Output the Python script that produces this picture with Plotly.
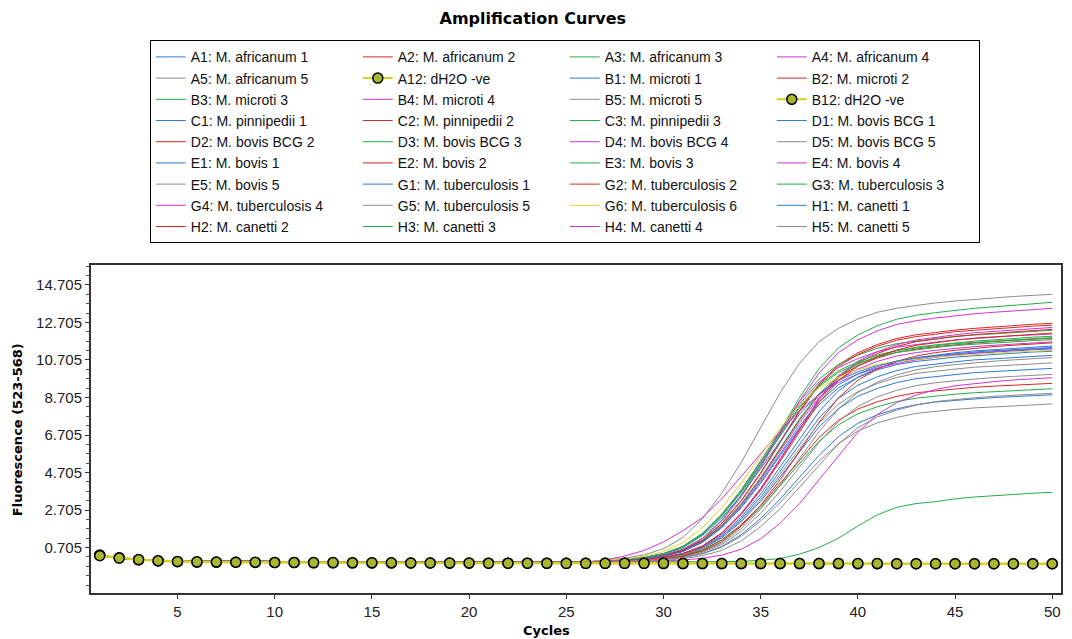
import plotly.graph_objects as go

cycles = list(range(1, 51))

# shared early baseline for the sample wells, cycles 1-26
sample_baseline = [0.28, 0.12, 0.06, 0.02, -0.01, -0.02, -0.03, -0.03, -0.04, -0.04,
                   -0.05, -0.05, -0.05, -0.06, -0.06, -0.06, -0.06, -0.07, -0.07, -0.07,
                   -0.07, -0.07, -0.08, -0.08, -0.08, -0.08]

# sample wells, cycles 27-50
A1 = [-0.02, 0.02, 0.1, 0.23, 0.49, 0.97, 1.76, 2.83, 4.13, 5.6, 7.07, 8.31, 9.22, 9.78, 10.18, 10.46, 10.63, 10.74, 10.86, 10.93, 11.0, 11.07, 11.13, 11.17]
A2 = [-0.01, 0.02, 0.11, 0.25, 0.53, 1.03, 1.87, 3.01, 4.39, 5.95, 7.51, 8.83, 9.79, 10.39, 10.81, 11.11, 11.29, 11.41, 11.53, 11.61, 11.69, 11.76, 11.82, 11.87]
A3 = [-0.01, 0.03, 0.13, 0.3, 0.62, 1.2, 2.17, 3.5, 5.09, 6.9, 8.71, 10.24, 11.35, 12.04, 12.53, 12.88, 13.09, 13.23, 13.36, 13.46, 13.54, 13.63, 13.7, 13.78]
A4 = [0.0, 0.06, 0.17, 0.38, 0.76, 1.44, 2.45, 3.73, 5.26, 6.84, 8.37, 9.53, 10.3, 10.78, 11.15, 11.39, 11.54, 11.66, 11.77, 11.85, 11.92, 11.99, 12.04, 12.09]
A5 = [-0.03, -0.02, 0.02, 0.09, 0.23, 0.48, 0.94, 1.71, 2.76, 4.02, 5.45, 6.88, 8.09, 8.97, 9.52, 9.91, 10.18, 10.35, 10.46, 10.57, 10.64, 10.71, 10.77, 10.83]
B1 = [-0.03, 0.0, 0.05, 0.16, 0.36, 0.72, 1.37, 2.33, 3.55, 5.0, 6.5, 7.95, 9.06, 9.79, 10.25, 10.6, 10.83, 10.97, 11.09, 11.19, 11.26, 11.33, 11.4, 11.45]
B2 = [-0.01, 0.03, 0.12, 0.27, 0.56, 1.1, 2.0, 3.21, 4.69, 6.35, 8.01, 9.42, 10.45, 11.09, 11.53, 11.85, 12.05, 12.17, 12.3, 12.39, 12.47, 12.55, 12.61, 12.66]
B3 = [0.0, 0.06, 0.17, 0.38, 0.77, 1.46, 2.49, 3.79, 5.34, 6.96, 8.51, 9.68, 10.47, 10.96, 11.33, 11.58, 11.73, 11.85, 11.97, 12.04, 12.11, 12.19, 12.24, 12.29]
B4 = [-0.01, 0.02, 0.1, 0.25, 0.52, 1.01, 1.84, 2.96, 4.32, 5.85, 7.38, 8.68, 9.63, 10.22, 10.63, 10.92, 11.1, 11.22, 11.34, 11.42, 11.49, 11.56, 11.62, 11.67]
B5 = [0.04, 0.14, 0.31, 0.64, 1.24, 2.24, 3.6, 5.24, 7.1, 8.96, 10.53, 11.68, 12.39, 12.89, 13.25, 13.46, 13.61, 13.75, 13.85, 13.94, 14.02, 14.09, 14.15, 14.21]
C1 = [-0.03, -0.01, 0.04, 0.14, 0.31, 0.64, 1.22, 2.08, 3.17, 4.47, 5.83, 7.13, 8.11, 8.77, 9.19, 9.5, 9.71, 9.83, 9.93, 10.03, 10.09, 10.15, 10.22, 10.26]
C2 = [-0.03, 0.0, 0.06, 0.18, 0.39, 0.78, 1.48, 2.51, 3.83, 5.39, 7.01, 8.58, 9.76, 10.55, 11.05, 11.43, 11.68, 11.83, 11.95, 12.06, 12.14, 12.21, 12.29, 12.34]
C3 = [0.0, 0.06, 0.16, 0.37, 0.74, 1.4, 2.39, 3.64, 5.13, 6.67, 8.16, 9.29, 10.04, 10.52, 10.87, 11.11, 11.26, 11.37, 11.48, 11.55, 11.62, 11.7, 11.74, 11.79]
D1 = [-0.03, -0.02, 0.0, 0.07, 0.18, 0.38, 0.76, 1.39, 2.25, 3.28, 4.45, 5.62, 6.61, 7.33, 7.78, 8.1, 8.32, 8.46, 8.55, 8.64, 8.7, 8.75, 8.81, 8.85]
D2 = [-0.03, -0.01, 0.04, 0.12, 0.29, 0.58, 1.12, 1.92, 2.93, 4.13, 5.37, 6.57, 7.49, 8.09, 8.48, 8.76, 8.96, 9.07, 9.17, 9.25, 9.31, 9.37, 9.43, 9.46]
D3 = [-0.01, 0.02, 0.11, 0.25, 0.53, 1.04, 1.89, 3.04, 4.43, 6.0, 7.57, 8.9, 9.87, 10.48, 10.9, 11.2, 11.39, 11.51, 11.63, 11.71, 11.78, 11.86, 11.92, 11.97]
D4 = [-0.01, 0.03, 0.13, 0.29, 0.6, 1.17, 2.13, 3.42, 4.98, 6.75, 8.52, 10.01, 11.1, 11.78, 12.26, 12.6, 12.8, 12.94, 13.07, 13.17, 13.25, 13.33, 13.4, 13.46]
D5 = [-0.03, -0.02, 0.01, 0.08, 0.2, 0.44, 0.86, 1.57, 2.53, 3.69, 5.0, 6.31, 7.42, 8.23, 8.74, 9.09, 9.34, 9.49, 9.6, 9.7, 9.77, 9.83, 9.89, 9.94]
E1 = [-0.03, -0.01, 0.05, 0.15, 0.34, 0.68, 1.3, 2.23, 3.39, 4.78, 6.22, 7.61, 8.66, 9.36, 9.81, 10.14, 10.36, 10.5, 10.61, 10.71, 10.77, 10.84, 10.91, 10.95]
E2 = [-0.01, 0.03, 0.12, 0.27, 0.56, 1.09, 1.98, 3.19, 4.65, 6.3, 7.95, 9.35, 10.36, 11.0, 11.44, 11.76, 11.95, 12.08, 12.21, 12.29, 12.37, 12.45, 12.51, 12.56]
E3 = [-0.03, -0.01, 0.03, 0.12, 0.28, 0.56, 1.09, 1.86, 2.83, 4.0, 5.21, 6.37, 7.25, 7.84, 8.21, 8.49, 8.67, 8.79, 8.88, 8.96, 9.02, 9.07, 9.13, 9.17]
E4 = [-0.03, 0.0, 0.06, 0.18, 0.39, 0.78, 1.49, 2.53, 3.86, 5.43, 7.07, 8.64, 9.84, 10.64, 11.14, 11.52, 11.77, 11.92, 12.05, 12.16, 12.24, 12.31, 12.39, 12.44]
E5 = [-0.03, -0.03, -0.01, 0.03, 0.11, 0.27, 0.55, 1.06, 1.82, 2.77, 3.91, 5.09, 6.23, 7.09, 7.67, 8.03, 8.3, 8.49, 8.6, 8.69, 8.77, 8.82, 8.88, 8.93]
G1 = [0.0, 0.05, 0.16, 0.35, 0.7, 1.34, 2.29, 3.48, 4.91, 6.39, 7.82, 8.9, 9.62, 10.07, 10.42, 10.64, 10.78, 10.89, 11.0, 11.07, 11.13, 11.2, 11.25, 11.29]
G2 = [-0.03, -0.02, 0.02, 0.1, 0.25, 0.52, 1.01, 1.84, 2.96, 4.32, 5.85, 7.38, 8.68, 9.63, 10.22, 10.63, 10.92, 11.1, 11.22, 11.34, 11.42, 11.49, 11.56, 11.62]
G3 = [0.0, 0.06, 0.17, 0.37, 0.74, 1.41, 2.41, 3.67, 5.17, 6.73, 8.23, 9.37, 10.13, 10.61, 10.97, 11.21, 11.35, 11.47, 11.58, 11.65, 11.72, 11.79, 11.84, 11.89]
G4 = [0.05, 0.25, 0.55, 1.0, 1.6, 2.3, 3.3, 4.5, 5.7, 6.9, 8.0, 8.85, 9.5, 9.95, 10.28, 10.52, 10.71, 10.86, 10.98, 11.08, 11.16, 11.23, 11.29, 11.34]
G5 = [-0.03, -0.01, 0.05, 0.14, 0.33, 0.66, 1.26, 2.14, 3.27, 4.61, 6.0, 7.33, 8.35, 9.02, 9.45, 9.77, 9.99, 10.12, 10.22, 10.32, 10.38, 10.45, 10.51, 10.55]
G6 = [0.02, 0.1, 0.23, 0.49, 0.97, 1.76, 2.83, 4.13, 5.6, 7.07, 8.31, 9.22, 9.78, 10.18, 10.46, 10.63, 10.74, 10.86, 10.93, 11.0, 11.07, 11.13, 11.17, 11.22]
H1 = [-0.02, 0.02, 0.1, 0.24, 0.5, 0.99, 1.79, 2.88, 4.21, 5.7, 7.2, 8.46, 9.38, 9.96, 10.36, 10.65, 10.82, 10.93, 11.05, 11.13, 11.2, 11.27, 11.32, 11.37]
H2 = [-0.03, 0.0, 0.06, 0.17, 0.38, 0.76, 1.45, 2.47, 3.76, 5.3, 6.9, 8.44, 9.61, 10.38, 10.87, 11.24, 11.49, 11.64, 11.76, 11.87, 11.94, 12.02, 12.09, 12.14]
H3 = [-0.05, -0.06, -0.06, -0.07, -0.07, -0.06, -0.05, -0.03, 0.02, 0.12, 0.35, 0.7, 1.2, 1.85, 2.45, 2.85, 3.05, 3.15, 3.3, 3.4, 3.48, 3.55, 3.6, 3.65]
H4 = [-0.03, -0.03, -0.03, -0.01, 0.04, 0.13, 0.3, 0.61, 1.17, 2.0, 3.05, 4.3, 5.6, 6.85, 7.8, 8.43, 8.83, 9.13, 9.33, 9.45, 9.55, 9.64, 9.7, 9.76]
H5 = [-0.03, -0.02, 0.0, 0.06, 0.16, 0.36, 0.72, 1.31, 2.12, 3.1, 4.2, 5.31, 6.24, 6.92, 7.35, 7.64, 7.86, 7.98, 8.07, 8.15, 8.21, 8.26, 8.31, 8.36]

# negative controls, cycles 1-50
A12 = [0.3, 0.16, 0.05, -0.01, -0.05, -0.07, -0.08, -0.08, -0.09, -0.1,
       -0.1, -0.11, -0.11, -0.11, -0.12, -0.12, -0.12, -0.12, -0.13, -0.13,
       -0.13, -0.13, -0.13, -0.14, -0.14, -0.14, -0.14, -0.14, -0.14, -0.15,
       -0.15, -0.15, -0.15, -0.15, -0.15, -0.15, -0.15, -0.15, -0.15, -0.16,
       -0.16, -0.16, -0.16, -0.16, -0.16, -0.16, -0.16, -0.16, -0.16, -0.16]
B12 = [0.27, 0.14, 0.06, 0.0, -0.04, -0.06, -0.07, -0.08, -0.08, -0.09,
       -0.09, -0.1, -0.1, -0.11, -0.11, -0.11, -0.12, -0.12, -0.12, -0.12,
       -0.13, -0.13, -0.13, -0.13, -0.14, -0.14, -0.14, -0.14, -0.14, -0.14,
       -0.15, -0.15, -0.15, -0.15, -0.15, -0.15, -0.15, -0.15, -0.15, -0.15,
       -0.15, -0.16, -0.16, -0.16, -0.16, -0.16, -0.16, -0.16, -0.16, -0.16]

legend_labels = [
    "A1: M. africanum 1", "A2: M. africanum 2", "A3: M. africanum 3", "A4: M. africanum 4",
    "A5: M. africanum 5", "A12: dH2O -ve", "B1: M. microti 1", "B2: M. microti 2",
    "B3: M. microti 3", "B4: M. microti 4", "B5: M. microti 5", "B12: dH2O -ve",
    "C1: M. pinnipedii 1", "C2: M. pinnipedii 2", "C3: M. pinnipedii 3", "D1: M. bovis BCG 1",
    "D2: M. bovis BCG 2", "D3: M. bovis BCG 3", "D4: M. bovis BCG 4", "D5: M. bovis BCG 5",
    "E1: M. bovis 1", "E2: M. bovis 2", "E3: M. bovis 3", "E4: M. bovis 4",
    "E5: M. bovis 5", "G1: M. tuberculosis 1", "G2: M. tuberculosis 2", "G3: M. tuberculosis 3",
    "G4: M. tuberculosis 4", "G5: M. tuberculosis 5", "G6: M. tuberculosis 6", "H1: M. canetti 1",
    "H2: M. canetti 2", "H3: M. canetti 3", "H4: M. canetti 4", "H5: M. canetti 5",
]
series_values = [A1, A2, A3, A4, A5, A12, B1, B2, B3, B4, B5, B12,
                 C1, C2, C3, D1, D2, D3, D4, D5, E1, E2, E3, E4,
                 E5, G1, G2, G3, G4, G5, G6, H1, H2, H3, H4, H5]

BLUE, RED, GREEN, MAG, GREY, YEL = "#2F78D6", "#D62828", "#22AE48", "#D232D2", "#8C8C8C", "#E8D02A"
series_colors = [BLUE, RED, GREEN, MAG, GREY, None, BLUE, RED, GREEN, MAG, GREY, None,
                 BLUE, RED, GREEN, BLUE, RED, GREEN, MAG, GREY, BLUE, RED, GREEN, MAG,
                 GREY, BLUE, RED, GREEN, MAG, GREY, YEL, BLUE, RED, GREEN, MAG, GREY]

fig = go.Figure()
controls = []
for i, (lab, vals, col) in enumerate(zip(legend_labels, series_values, series_colors)):
    if col is None:
        controls.append((i, lab, vals))
        continue
    fig.add_trace(go.Scatter(
        x=cycles, y=sample_baseline + vals, mode="lines", name=lab,
        line=dict(color=col, width=1), legendrank=i + 1))
for i, lab, vals in controls:
    fig.add_trace(go.Scatter(
        x=cycles, y=vals, mode="lines+markers", name=lab,
        line=dict(color="#D8D020", width=2),
        marker=dict(symbol="circle", size=10, color="#A8B630",
                    line=dict(color="black", width=1.5)),
        legendrank=i + 1))

ytick_vals = [0.705, 2.705, 4.705, 6.705, 8.705, 10.705, 12.705, 14.705]
ytick_text = ["0.705", "2.705", "4.705", "6.705", "8.705", "10.705", "12.705", "14.705"]

fig.update_layout(
    width=1072, height=639,
    margin=dict(l=91, r=9, t=265, b=46),
    paper_bgcolor="white", plot_bgcolor="white",
    font=dict(family="Liberation Sans, Arial, sans-serif", size=14, color="#111"),
    title=dict(text="<b>Amplification Curves</b>", xref="container", x=0.497, xanchor="center",
               yref="container", y=1 - 18 / 639, yanchor="middle",
               font=dict(family="DejaVu Sans", size=16, color="black")),
    legend=dict(orientation="h", x=0.0606, xanchor="left", y=1.685, yanchor="top",
                entrywidth=162, entrywidthmode="pixels",
                bgcolor="white", bordercolor="black", borderwidth=1,
                font=dict(family="Liberation Sans, Arial, sans-serif", size=14, color="#111"),
                tracegroupgap=0),
    showlegend=True,
    xaxis=dict(range=[0.55, 50.45], tickmode="array", tickvals=[5, 10, 15, 20, 25, 30, 35, 40, 45, 50],
               ticks="outside", ticklen=4, tickcolor="#333", showline=True, linecolor="#333",
               linewidth=2, mirror=True, showgrid=False, zeroline=False,
               tickfont=dict(size=15, color="#222")),
    yaxis=dict(range=[-1.72, 15.77], tickmode="array", tickvals=ytick_vals, ticktext=ytick_text,
               ticks="outside", ticklen=4, tickcolor="#333", showline=True, linecolor="#333",
               linewidth=2, mirror=True, showgrid=False, zeroline=False,
               tickfont=dict(size=15, color="#222"),
               minor=dict(tickmode="linear", tick0=0.705, dtick=0.5, ticks="outside",
                          ticklen=3, tickcolor="#555", showgrid=False)),
    annotations=[
        dict(text="<b>Cycles</b>", xref="paper", yref="paper", x=0.47, y=-0.113,
             xanchor="center", yanchor="middle", showarrow=False,
             font=dict(family="DejaVu Sans", size=13, color="black")),
        dict(text="<b>Fluorescence (523-568)</b>", xref="paper", yref="paper", x=-0.0751, y=0.497,
             xanchor="center", yanchor="middle", showarrow=False, textangle=-90,
             font=dict(family="DejaVu Sans", size=13, color="black")),
    ],
)

fig.write_html("out.html", config={"displayModeBar": False},
               post_script="document.body.style.margin='0';document.body.style.padding='0';")
